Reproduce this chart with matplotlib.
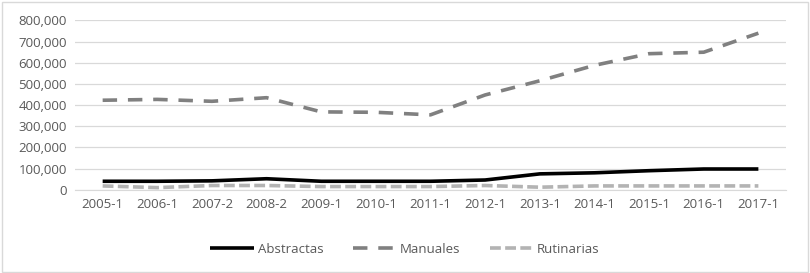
import matplotlib
matplotlib.use("Agg")
import matplotlib.pyplot as plt
from matplotlib.ticker import FuncFormatter

categories = ["2005-1", "2006-1", "2007-2", "2008-2", "2009-1", "2010-1", "2011-1",
              "2012-1", "2013-1", "2014-1", "2015-1", "2016-1", "2017-1"]
abstractas = [40000, 40000, 42000, 52000, 40000, 40000, 40000, 46000, 75000, 80000, 90000, 98000, 98000]
manuales = [423000, 427000, 418000, 435000, 368000, 366000, 354000, 448000, 515000, 588000, 643000, 650000, 740000]
rutinarias = [18000, 10000, 20000, 20000, 15000, 15000, 15000, 20000, 12000, 18000, 18000, 18000, 18000]

plt.rcParams['font.family'] = ['Open Sans', 'DejaVu Sans']
fig = plt.figure(figsize=(8.1, 2.73), dpi=100)
ax = fig.add_axes([0.093, 0.305, 0.877, 0.62])
x = list(range(len(categories)))
ax.plot(x, abstractas, color="black", lw=2.6, label="Abstractas", solid_capstyle="butt")
ax.plot(x, manuales, color="#808080", lw=2.6, dashes=(4, 3), label="Manuales")
ax.plot(x, rutinarias, color="#b3b3b3", lw=2.6, dashes=(3, 1.2), label="Rutinarias")

ax.set_ylim(0, 800000)
ax.set_yticks(range(0, 800001, 100000))
ax.yaxis.set_major_formatter(FuncFormatter(lambda v, p: f"{int(v):,}"))
ax.set_xlim(-0.5, len(categories) - 0.5)
ax.set_xticks(x)
ax.set_xticklabels(categories)
ax.grid(axis="y", color="#d9d9d9", lw=0.9)
ax.set_axisbelow(True)
for s in ["top", "right", "left"]:
    ax.spines[s].set_visible(False)
ax.spines["bottom"].set_color("#d9d9d9")
ax.tick_params(axis="both", length=0, colors="#595959", labelsize=9.5, pad=6)

fig.legend(loc="lower center", ncol=3, frameon=False, fontsize=9.5,
           bbox_to_anchor=(0.5, 0.02), handlelength=3.3, columnspacing=2.2,
           labelcolor="#595959", handletextpad=0.3)
fig.patches.append(plt.Rectangle((0.002, 0.004), 0.995, 0.99, transform=fig.transFigure,
                                 fill=False, edgecolor="#d9d9d9", lw=1))
fig.savefig("out.png", dpi=100)
